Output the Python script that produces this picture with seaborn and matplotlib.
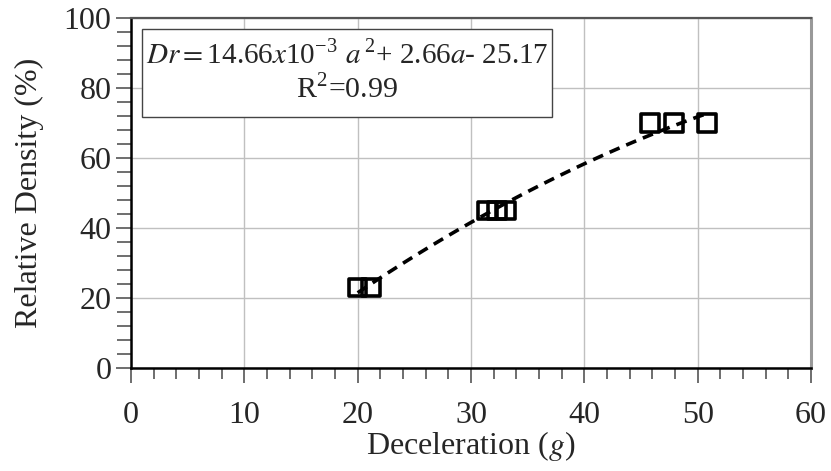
import numpy as np
import pandas as pd
import matplotlib
matplotlib.use("Agg")
import matplotlib.pyplot as plt
from matplotlib.ticker import MultipleLocator
from matplotlib.patches import Rectangle
import seaborn as sns

# Data
decel = [20.0, 21.2, 31.4, 32.3, 33.1, 45.8, 47.9, 50.8]
rel_density = [23, 23, 45, 45, 45, 70, 70, 70]
x_ticks = [0, 10, 20, 30, 40, 50, 60]
y_ticks = [0, 20, 40, 60, 80, 100]

df = pd.DataFrame({"Deceleration": decel, "RelativeDensity": rel_density})

sns.set_theme(style="white")
plt.rcParams["font.family"] = ["Liberation Serif", "DejaVu Serif"]
plt.rcParams["mathtext.fontset"] = "stix"

fig = plt.figure(figsize=(8.31, 4.71), dpi=100)
ax = fig.add_axes([131 / 831, 1 - 368 / 471, 680 / 831, 350 / 471])

sns.regplot(data=df, x="Deceleration", y="RelativeDensity", order=2, ci=None,
            marker="s", ax=ax,
            scatter_kws=dict(s=160, facecolors="none", edgecolors="black",
                             linewidths=2.6, alpha=1, zorder=3),
            line_kws=dict(color="black", linestyle=(0, (3, 2)), linewidth=2.6,
                          zorder=4))

ax.set_xlim(0, 60)
ax.set_ylim(0, 100)
ax.set_xticks(x_ticks)
ax.set_yticks(y_ticks)
ax.xaxis.set_minor_locator(MultipleLocator(2))
ax.yaxis.set_minor_locator(MultipleLocator(4))
ax.tick_params(axis="both", which="both", bottom=True, left=True,
               top=False, right=False)
ax.tick_params(axis="both", which="major", direction="out", length=11,
               width=1.2, color="#555555", labelsize=23)
ax.tick_params(axis="x", which="major", pad=13)
ax.tick_params(axis="y", which="major", pad=3)
ax.tick_params(axis="x", which="minor", direction="out", length=8,
               width=1.2, color="#555555")
ax.tick_params(axis="y", which="minor", direction="out", length=10,
               width=1.2, color="#555555")
ax.grid(True, which="major", color="#c0c0c0", linewidth=1.0)
ax.set_axisbelow(True)

ax.spines["left"].set_color("black")
ax.spines["left"].set_linewidth(1.8)
ax.spines["bottom"].set_color("black")
ax.spines["bottom"].set_linewidth(1.8)
ax.spines["top"].set_color("#555555")
ax.spines["top"].set_linewidth(1.6)
ax.spines["right"].set_color("#999999")
ax.spines["right"].set_linewidth(2.2)

ax.set_xlabel(r"Deceleration ($g$)", fontsize=23, labelpad=-1)
ax.set_ylabel("Relative Density (%)", fontsize=23, labelpad=14)

# equation box
ax.add_patch(Rectangle((0.016, 0.717), 0.603, 0.252, transform=ax.transAxes,
                       facecolor="white", edgecolor="#444444", linewidth=1.0,
                       zorder=5))
line1 = r"$Dr = $14.66$x$10$^{\mathregular{-3}}$ $a^{\mathregular{\,2}}$+ 2.66$a$- 25.17"
line2 = r"R$^{\mathregular{2}}$=0.99"
ax.text(0.318, 0.891, line1, transform=ax.transAxes, fontsize=21,
        ha="center", va="center", zorder=6)
ax.text(0.318, 0.794, line2, transform=ax.transAxes, fontsize=21.5,
        ha="center", va="center", zorder=6)

fig.savefig("out.png", dpi=100)
